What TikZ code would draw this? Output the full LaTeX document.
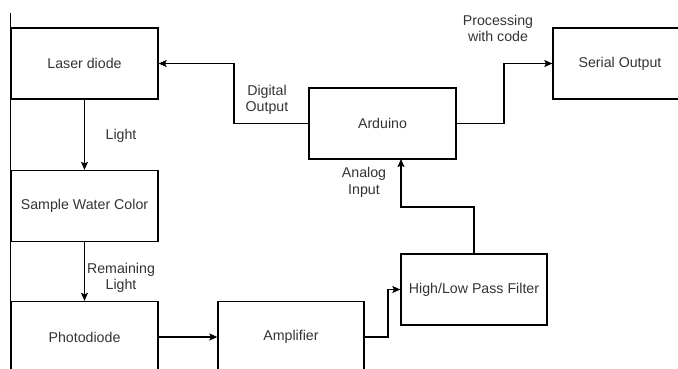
\documentclass[tikz,border=0pt]{standalone}
\usepackage{fontspec}
\setmainfont{Liberation Sans}
\usetikzlibrary{arrows.meta}
\definecolor{txt}{HTML}{333333}
\tikzset{
  blk/.style={draw=black, line width=1.3pt, minimum width=147pt, minimum height=71pt, inner sep=0pt, text=txt, font=\fontsize{14.2}{16}\selectfont},
  conn/.style={draw=black, line width=1.3pt, -{Stealth[length=8pt,width=7pt,inset=1.5pt]}},
  lbl/.style={text=txt, align=center, inner sep=0pt, font=\fontsize{14.2}{16.5}\selectfont}
}
\begin{document}
\begin{tikzpicture}[x=1pt,y=-1pt]
\useasboundingbox (0,0) rectangle (678,368);
\clip (0,0) rectangle (678,368);
\draw[line width=1.3pt] (10.5,13) coordinate (edgetop) -- (10.5,370) coordinate (edgebot);
\node[blk] (laser) at (84.5,63.5) {Laser diode};
\node[blk] (sample) at (84.5,206) {Sample Water Color};
\node[blk] (photo) at (84.5,337) {Photodiode};
\node[blk, minimum width=146pt] (amp) at (291,337) {Amplifier};
\node[blk] (ard) at (382.5,123.5) {Arduino};
\node[blk, minimum width=134pt] (serial) at (620,63.5) {Serial Output};
\node[blk, minimum width=146pt] (filt) at (474,289.5) {High/Low Pass Filter};

\draw[conn] (laser.south) -- (sample.north);
\draw[conn] (sample.south) -- (photo.north);
\draw[conn] (photo.east) -- (amp.west);
\draw[conn] (amp.east) -- (388,337) |- (filt.west);
\coordinate (ardin) at (401,159);
\draw[conn] (filt.north) |- (401,207) -- (ardin);
\draw[conn] (ard.west) -| (234,63.5) -- (laser.east);
\draw[conn] (ard.east) -| (504,63.5) -- (serial.west);

\node[lbl] (l1) at (121,136) {Light};
\node[lbl] (l2) at (121,278) {Remaining\\Light};
\node[lbl] (l3) at (267,100) {Digital\\Output};
\node[lbl] (l4) at (498,28.5) {Processing\\with code};
\node[lbl] (l5) at (364,182.5) {Analog\\Input};
\end{tikzpicture}
\end{document}
